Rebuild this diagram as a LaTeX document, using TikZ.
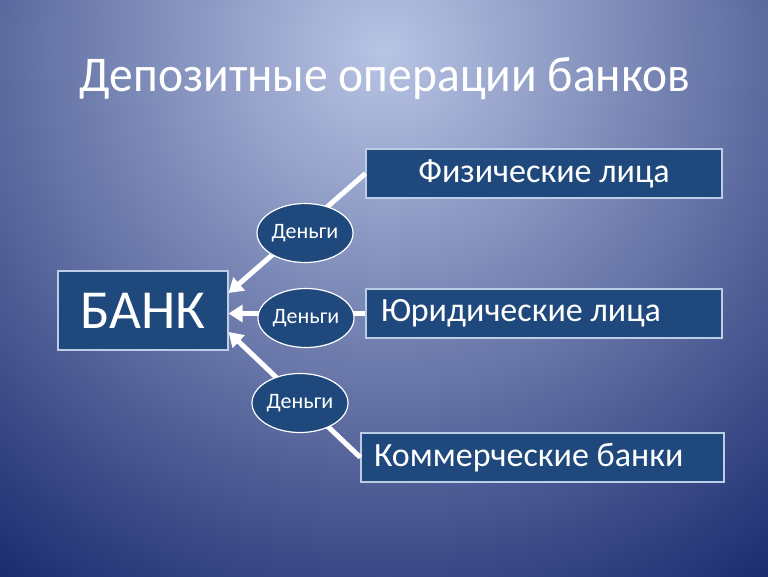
\documentclass[tikz,border=0pt]{standalone}
\usepackage{fontspec}
\setmainfont{Carlito}
\usepackage{xcolor}
\usetikzlibrary{arrows.meta,shapes.geometric}

\definecolor{bgLight}{RGB}{184,196,228}
\definecolor{bgDark}{RGB}{18,34,104}
\definecolor{boxBlue}{RGB}{31,73,125}
\definecolor{boxLine}{RGB}{190,205,230}

\begin{document}
\begin{tikzpicture}[x=1pt, y=-1pt,
    box/.style={draw=boxLine, line width=1.2pt, fill=boxBlue, text=white,
      minimum height=49pt, inner sep=0pt},
    money/.style={ellipse, draw=white, line width=1.2pt, fill=boxBlue, text=white,
      minimum width=96pt, minimum height=59pt, inner sep=0pt,
      font=\fontsize{22}{24}\selectfont},
    flow/.style={draw=white, line width=5pt, -{Triangle[width=17pt,length=14pt]}}]
             \useasboundingbox (0,0) rectangle (768,576);
             \begin{scope}
               \clip (0,0) rectangle (768,576);
               \shade[inner color=bgLight, outer color=bgDark] (384,50) circle (690pt);
             \end{scope}

             \node[text=white, anchor=base, xscale=0.95, transform shape, font=\fontsize{50}{52}\selectfont] (title) at (385,91) {Депозитные операции банков};

             \node[box, minimum width=170pt, minimum height=79pt, font=\fontsize{55}{60}\selectfont] (bank) at (143,310.5) {БАНК};
             \node[box, minimum width=356pt, font=\fontsize{34}{36}\selectfont] (fiz) at (544,173.5) {Физические лица};
             \node[box, text width=326pt, inner xsep=15pt, align=flush left, font=\fontsize{34}{36}\selectfont] (yur) at (544,313.5) {Юридические лица};
             \node[box, text width=337pt, inner xsep=13pt, align=flush left, font=\fontsize{34}{36}\selectfont] (kom) at (542.5,457.5) {Коммерческие банки};

             \draw[flow] (fiz.west) -- ([yshift=17.5pt]bank.east);
             \draw[flow] (yur.west) -- (bank.east |- yur.west);
             \draw[flow] (kom.west) -- ([yshift=-21.5pt]bank.east);

             \node[money] (m1) at (305,233) {Деньги};
             \node[money] (m2) at (306,318) {Деньги};
             \node[money] (m3) at (300,403) {Деньги};
\end{tikzpicture}
\end{document}
